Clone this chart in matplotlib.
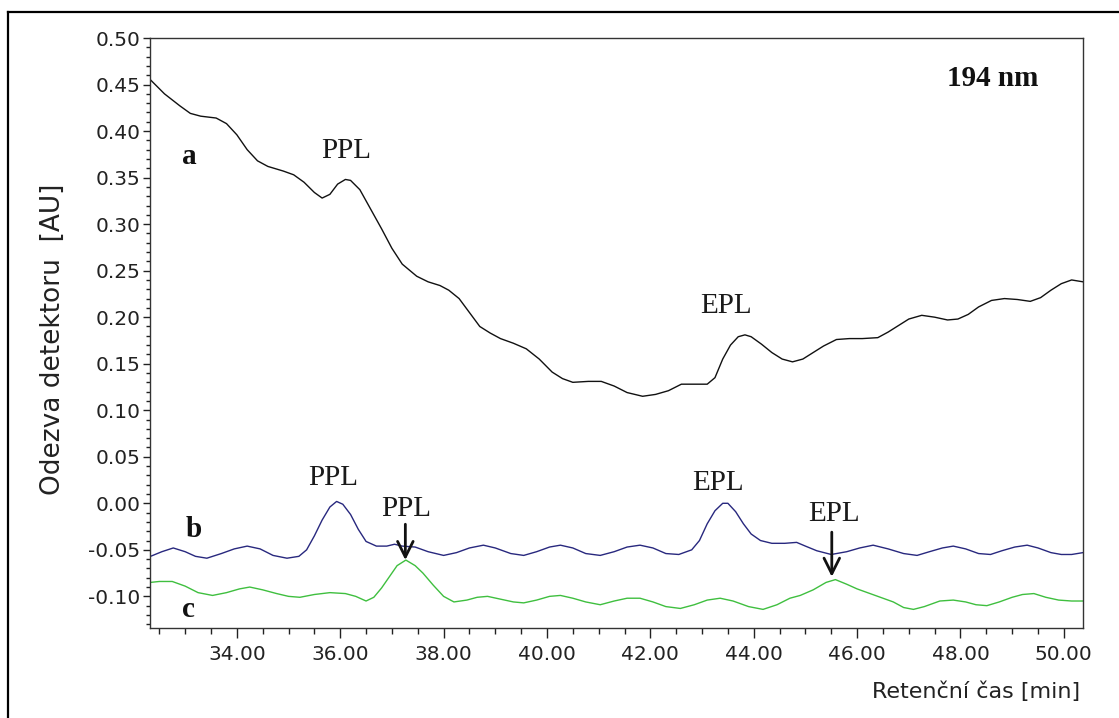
import matplotlib
matplotlib.use("Agg")
import matplotlib.pyplot as plt
from matplotlib.ticker import MultipleLocator, FormatStrFormatter
from matplotlib.lines import Line2D

# ---- data ----
time_a = [32.33, 32.6, 32.9, 33.1, 33.3, 33.6, 33.8, 34.0, 34.2, 34.4, 34.6, 34.9, 35.1, 35.3,
          35.5, 35.65, 35.8, 35.95, 36.1, 36.2, 36.38, 36.6, 36.8, 37.0, 37.2, 37.48, 37.7,
          37.93, 38.1, 38.3, 38.5, 38.7, 38.9, 39.1, 39.35, 39.6, 39.85, 40.1, 40.3, 40.5,
          40.8, 41.05, 41.3, 41.55, 41.85, 42.1, 42.35, 42.6, 42.9, 43.1, 43.25, 43.4, 43.55,
          43.7, 43.83, 43.95, 44.15, 44.35, 44.55, 44.75, 44.95, 45.15, 45.35, 45.6, 45.85,
          46.1, 46.4, 46.6, 46.8, 47.0, 47.25, 47.5, 47.75, 47.95, 48.15, 48.35, 48.6, 48.85,
          49.1, 49.35, 49.55, 49.75, 49.95, 50.15, 50.37]
signal_a = [0.455, 0.440, 0.427, 0.419, 0.416, 0.414, 0.408, 0.396, 0.380, 0.368, 0.362, 0.357,
            0.353, 0.345, 0.334, 0.328, 0.332, 0.343, 0.348, 0.347, 0.337, 0.315, 0.295, 0.274,
            0.257, 0.244, 0.238, 0.234, 0.229, 0.220, 0.205, 0.190, 0.183, 0.177, 0.172, 0.166,
            0.155, 0.141, 0.134, 0.130, 0.131, 0.131, 0.126, 0.119, 0.115, 0.117, 0.121, 0.128,
            0.128, 0.128, 0.135, 0.155, 0.170, 0.179, 0.181, 0.179, 0.171, 0.162, 0.155, 0.152,
            0.155, 0.162, 0.169, 0.176, 0.177, 0.177, 0.178, 0.184, 0.191, 0.198, 0.202, 0.200,
            0.197, 0.198, 0.203, 0.211, 0.218, 0.220, 0.219, 0.217, 0.221, 0.229, 0.236, 0.240,
            0.238]

time_b = [32.33, 32.55, 32.77, 33.0, 33.2, 33.42, 33.7, 33.95, 34.2, 34.45, 34.7, 34.97, 35.2,
          35.35, 35.5, 35.65, 35.8, 35.93, 36.05, 36.2, 36.35, 36.5, 36.7, 36.9, 37.05, 37.2,
          37.45, 37.7, 38.0, 38.25, 38.5, 38.77, 39.0, 39.3, 39.55, 39.8, 40.05, 40.26, 40.5,
          40.75, 41.03, 41.3, 41.55, 41.8, 42.05, 42.3, 42.55, 42.8, 42.95, 43.1, 43.25, 43.4,
          43.5, 43.65, 43.8, 43.95, 44.13, 44.35, 44.6, 44.83, 45.0, 45.22, 45.5, 45.8, 46.05,
          46.31, 46.6, 46.9, 47.16, 47.4, 47.65, 47.86, 48.1, 48.35, 48.58, 48.8, 49.05, 49.29,
          49.5, 49.75, 49.95, 50.15, 50.37]
signal_b = [-0.057, -0.052, -0.048, -0.052, -0.057, -0.059, -0.054, -0.049, -0.046, -0.049,
            -0.056, -0.059, -0.057, -0.050, -0.035, -0.018, -0.004, 0.002, -0.001, -0.012,
            -0.028, -0.041, -0.046, -0.046, -0.044, -0.046, -0.047, -0.052, -0.056, -0.053,
            -0.048, -0.045, -0.048, -0.054, -0.056, -0.052, -0.047, -0.045, -0.048, -0.054,
            -0.056, -0.052, -0.047, -0.045, -0.048, -0.054, -0.055, -0.050, -0.040, -0.022,
            -0.008, 0.000, 0.000, -0.009, -0.022, -0.033, -0.040, -0.043, -0.043, -0.042,
            -0.046, -0.051, -0.055, -0.052, -0.048, -0.045, -0.049, -0.054, -0.056, -0.052,
            -0.048, -0.046, -0.049, -0.054, -0.055, -0.051, -0.047, -0.045, -0.048, -0.053,
            -0.055, -0.055, -0.053]

time_c = [32.33, 32.5, 32.75, 33.0, 33.25, 33.53, 33.8, 34.05, 34.25, 34.5, 34.77, 35.0, 35.22,
          35.5, 35.8, 36.1, 36.3, 36.5, 36.65, 36.8, 36.95, 37.1, 37.27, 37.45, 37.6, 37.8,
          38.0, 38.2, 38.45, 38.65, 38.85, 39.1, 39.35, 39.55, 39.8, 40.05, 40.26, 40.5, 40.75,
          41.03, 41.3, 41.55, 41.8, 42.05, 42.3, 42.58, 42.85, 43.1, 43.35, 43.6, 43.9, 44.18,
          44.45, 44.7, 44.9, 45.15, 45.4, 45.58, 45.8, 46.0, 46.2, 46.45, 46.7, 46.9, 47.09,
          47.3, 47.6, 47.86, 48.1, 48.3, 48.51, 48.75, 49.0, 49.2, 49.42, 49.65, 49.9, 50.15,
          50.37]
signal_c = [-0.085, -0.084, -0.084, -0.089, -0.096, -0.099, -0.096, -0.092, -0.090, -0.093,
            -0.097, -0.100, -0.101, -0.098, -0.096, -0.097, -0.100, -0.105, -0.101, -0.091,
            -0.079, -0.067, -0.061, -0.067, -0.075, -0.088, -0.100, -0.106, -0.104, -0.101,
            -0.100, -0.103, -0.106, -0.107, -0.104, -0.100, -0.099, -0.102, -0.106, -0.109,
            -0.105, -0.102, -0.102, -0.106, -0.111, -0.113, -0.109, -0.104, -0.102, -0.105,
            -0.111, -0.114, -0.109, -0.102, -0.099, -0.093, -0.085, -0.082, -0.087, -0.092,
            -0.096, -0.101, -0.106, -0.112, -0.114, -0.111, -0.105, -0.104, -0.106, -0.109,
            -0.110, -0.106, -0.101, -0.098, -0.097, -0.101, -0.104, -0.105, -0.105]

trace_labels = ["a", "b", "c"]
wavelength_label = "194 nm"
x_label = "Retenční čas [min]"
y_label = "Odezva detektoru  [AU]"

# ---- figure ----
fig = plt.figure(figsize=(11.19, 7.18), dpi=100)
ax = fig.add_axes([150 / 1119, 1 - 628 / 718, 933 / 1119, 590 / 718])

ax.plot(time_a, signal_a, color="#111111", lw=1.0)
ax.plot(time_b, signal_b, color="#28287e", lw=1.0)
ax.plot(time_c, signal_c, color="#3fbf3f", lw=1.0)

ax.set_xlim(32.32, 50.37)
ax.set_ylim(-0.134, 0.50)

ax.xaxis.set_major_locator(MultipleLocator(2.0))
ax.xaxis.set_minor_locator(MultipleLocator(0.5))
ax.yaxis.set_major_locator(MultipleLocator(0.05))
ax.yaxis.set_minor_locator(MultipleLocator(0.01))
ax.xaxis.set_major_formatter(FormatStrFormatter("%.2f"))
ax.yaxis.set_major_formatter(FormatStrFormatter("%.2f"))

ax.tick_params(axis="both", which="major", direction="out", labelsize=14.5,
               colors="#222222", width=1.0)
ax.tick_params(axis="x", which="major", length=7, pad=5)
ax.tick_params(axis="y", which="major", length=5, pad=2)
ax.tick_params(axis="x", which="minor", length=4, width=1.0, color="#222222")
ax.tick_params(axis="y", which="minor", length=3, width=1.0, color="#222222")
for s in ax.spines.values():
    s.set_color("#333333")
    s.set_linewidth(1.0)

ax.set_xlabel(x_label, fontsize=16, color="#222222")
ax.xaxis.label.set_ha("right")
ax.xaxis.label.set_va("baseline")
ax.xaxis.set_label_coords((1080 - 150) / 933, (628 - 698) / 590)

ax.set_ylabel(y_label, fontsize=19, color="#222222")
ax.yaxis.label.set_va("center")
ax.yaxis.label.set_ha("center")
ax.yaxis.set_label_coords((53 - 150) / 933, (628 - 339) / 590)

serif = "Liberation Serif"
lab_kw = dict(family=serif, fontsize=21, color="#1a1a1a", ha="center", va="baseline")
ax.text(36.12, 0.371, "PPL", **lab_kw)
ax.text(43.47, 0.2046, "EPL", **lab_kw)
ax.text(35.86, 0.0193, "PPL", **lab_kw)
ax.text(43.30, 0.0143, "EPL", **lab_kw)
ax.text(37.27, -0.0136, "PPL", **lab_kw)
ax.text(45.56, -0.019, "EPL", **lab_kw)

bold_kw = dict(family=serif, fontsize=21, fontweight="bold", color="#111111",
               ha="center", va="baseline")
ax.text(33.09, 0.365, trace_labels[0], **bold_kw)
ax.text(33.16, -0.0365, trace_labels[1], **bold_kw)
ax.text(33.06, -0.122, trace_labels[2], **bold_kw)
ax.text(48.63, 0.4485, wavelength_label, **bold_kw)

arrow_kw = dict(arrowstyle="->", lw=2.0, color="#111111", mutation_scale=28,
                shrinkA=0, shrinkB=0)
ax.annotate("", xy=(37.26, -0.061), xytext=(37.26, -0.0225), arrowprops=arrow_kw)
ax.annotate("", xy=(45.51, -0.079), xytext=(45.51, -0.031), arrowprops=arrow_kw)

# outer frame (left and top edges visible in reference)
fx = 8 / 1119
fy = 1 - 12 / 718
fig.add_artist(Line2D([fx, fx], [0, fy], transform=fig.transFigure, color="black", lw=1.6))
fig.add_artist(Line2D([fx, 1], [fy, fy], transform=fig.transFigure, color="black", lw=1.6))

fig.savefig("out.png", dpi=100, facecolor="white")
